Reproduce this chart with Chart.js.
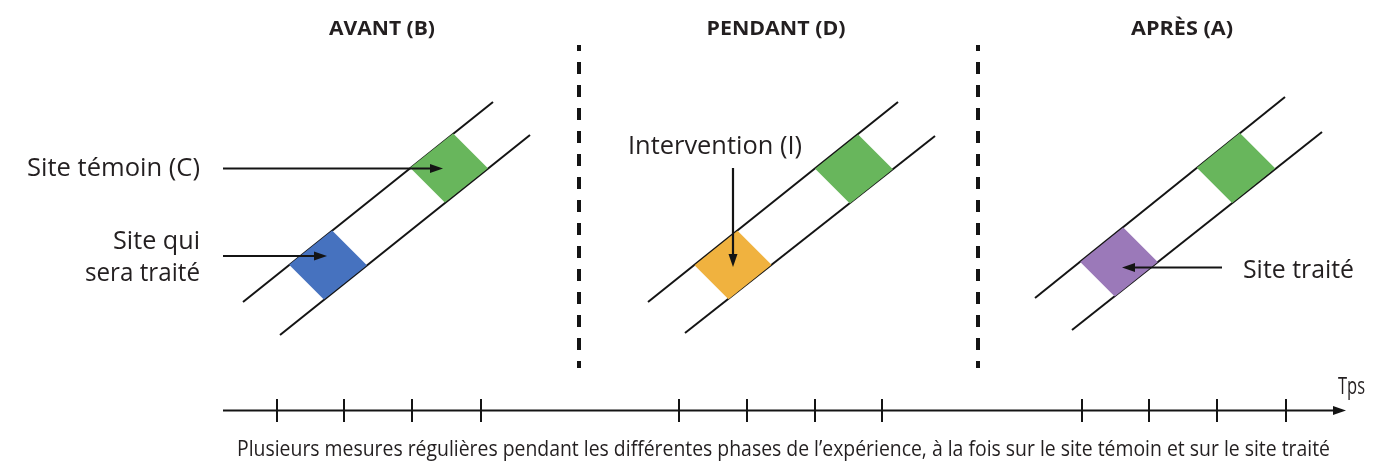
<!DOCTYPE html>
<html lang="fr">
<head>
<meta charset="utf-8">
<title>Avant / Pendant / Après</title>
<script src="https://cdn.jsdelivr.net/npm/chart.js@4.4.1/dist/chart.umd.min.js"></script>
<style>
  html, body { margin: 0; padding: 0; background: #fff; }
  #wrap { width: 1386px; height: 468px; }
</style>
</head>
<body>
<div id="wrap"><canvas id="schema" width="1386" height="468"></canvas></div>
<script>
// Phases de l'expérience
const phases = ['AVANT (B)', 'PENDANT (D)', 'APRÈS (A)'];
// Rails de chaque phase : [x0, y0, x1, y1]
const upperRails = [[243, 302, 493, 102], [648, 302, 898, 102], [1035, 298, 1285, 97]];
const lowerRails = [[280, 335, 530, 135], [685, 333, 935, 136], [1072, 330, 1322, 132]];
// Sites (centres)
const controlSites = [[449, 168], [854, 169], [1236, 168]];
const treatedSites = [[328, 265], [733, 265], [1119, 262]];
const controlColor = '#68b65c';
const treatedColors = ['#4672bf', '#f0b23f', '#9b79b9'];
// Mesures régulières sur l'axe du temps
const measureTimes = [277, 344, 412, 481, 679, 747, 815, 882, 1082, 1149, 1217, 1286];
// Séparations entre les phases
const phaseLimits = [579, 978];

const caption = 'Plusieurs mesures régulières pendant les différentes phases de l’expérience, à la fois sur le site témoin et sur le site traité';
const ink = '#141414';
const textColor = '#231f20';

// Flèches : départ -> pointe
const arrows = [
    { from: [223, 168.5], to: [443, 168.5] },
    { from: [223, 256], to: [327, 256] },
    { from: [733, 168], to: [733, 267] },
    { from: [1222, 267.5], to: [1122, 267.5] }
];
const timeAxis = { from: [223, 410.5], to: [1346, 410.5], tickTop: 399, tickBottom: 422 };
const divider = { top: 45, bottom: 368 };

// Textes
const labels = [
    { text: phases[0], x: 382, y: 35, w: 106, size: 20, bold: true, align: 'center' },
    { text: phases[1], x: 776, y: 35, w: 139, size: 20, bold: true, align: 'center' },
    { text: phases[2], x: 1182, y: 35, w: 102, size: 20, bold: true, align: 'center' },
    { text: 'Site témoin (C)', x: 27, y: 176, w: 173, size: 25, align: 'left' },
    { text: 'Site qui', x: 200, y: 249, w: 87, size: 25, align: 'right' },
    { text: 'sera traité', x: 200, y: 281, w: 115, size: 25, align: 'right' },
    { text: 'Intervention (I)', x: 628, y: 154, w: 174, size: 25, align: 'left' },
    { text: 'Site traité', x: 1243, y: 278, w: 111, size: 25, align: 'left' },
    { text: 'Tps', x: 1338, y: 394, w: 27, size: 23, align: 'left' },
    { text: caption, x: 237, y: 456, w: 1093, size: 22, align: 'left' }
];

function segment(points, color, width, order, extra) {
    return Object.assign({
        type: 'line',
        data: points.map(p => ({ x: p[0], y: p[1] })),
        borderColor: color,
        borderWidth: width,
        borderCapStyle: 'butt',
        pointRadius: 0,
        fill: false,
        tension: 0,
        order: order
    }, extra || {});
}

function polygon(points, color, order) {
    const closed = points.concat([points[0]]);
    return {
        type: 'line',
        data: closed.map(p => ({ x: p[0], y: p[1] })),
        borderColor: 'rgba(0,0,0,0)',
        borderWidth: 1,
        backgroundColor: color,
        fill: 'shape',
        pointRadius: 0,
        tension: 0,
        order: order
    };
}

function railY(rail, x) {
    return rail[1] + (x - rail[0]) * (rail[3] - rail[1]) / (rail[2] - rail[0]);
}

// losange posé entre les deux rails
function diamond(center, i) {
    const up = upperRails[i], low = lowerRails[i];
    const s = (up[1] - up[3]) / (up[2] - up[0]);
    const gap = railY(low, center[0]) - railY(up, center[0]);
    const k = gap / (2 * (1 + s));
    const a = 21.5;
    const cx = center[0], cy = center[1];
    return [
        [cx - a - k, cy + s * a - k],
        [cx + a - k, cy - s * a - k],
        [cx + a + k, cy - s * a + k],
        [cx - a + k, cy + s * a + k]
    ];
}

function arrow(from, to, len, half, width) {
    const dx = to[0] - from[0], dy = to[1] - from[1];
    const n = Math.hypot(dx, dy);
    const ux = dx / n, uy = dy / n;
    const bx = to[0] - len * ux, by = to[1] - len * uy;
    return [
        segment([from, [bx + 2 * ux, by + 2 * uy]], ink, width, 0),
        polygon([to, [bx - half * uy, by + half * ux], [bx + half * uy, by - half * ux]], ink, 0)
    ];
}

const datasets = [];

upperRails.forEach(r => datasets.push(segment([[r[0], r[1]], [r[2], r[3]]], ink, 2, 2)));
lowerRails.forEach(r => datasets.push(segment([[r[0], r[1]], [r[2], r[3]]], ink, 2, 2)));

controlSites.forEach((c, i) => datasets.push(polygon(diamond(c, i), controlColor, 1)));
treatedSites.forEach((c, i) => datasets.push(polygon(diamond(c, i), treatedColors[i], 1)));

phaseLimits.forEach(x => datasets.push(segment([[x, divider.top], [x, divider.bottom]], ink, 4, 2,
    { borderDash: [12, 11], borderDashOffset: 6 })));

arrows.forEach(a => arrow(a.from, a.to, 13, 4.5, 2.2).forEach(d => datasets.push(d)));

arrow(timeAxis.from, timeAxis.to, 13, 4.5, 2.2).forEach(d => datasets.push(d));
measureTimes.forEach(t => datasets.push(segment([[t, timeAxis.tickTop], [t, timeAxis.tickBottom]], ink, 2, 2)));

// Fond blanc
const background = {
    id: 'background',
    beforeDraw(chart) {
        const ctx = chart.ctx;
        ctx.save();
        ctx.fillStyle = '#ffffff';
        ctx.fillRect(0, 0, chart.width, chart.height);
        ctx.restore();
    }
};

// Textes ajustés à la largeur mesurée sur l'original
const texts = {
    id: 'texts',
    afterDraw(chart) {
        const ctx = chart.ctx;
        const sx = chart.scales.x, sy = chart.scales.y;
        labels.forEach(l => {
            ctx.save();
            ctx.font = (l.bold ? 'bold ' : '') + l.size + 'px "Open Sans", "Noto Sans", sans-serif';
            ctx.fillStyle = textColor;
            ctx.textAlign = 'left';
            ctx.textBaseline = 'alphabetic';
            const k = l.w / ctx.measureText(l.text).width;
            const px = sx.getPixelForValue(l.x);
            const py = sy.getPixelForValue(l.y);
            let left = px;
            if (l.align === 'center') left = px - l.w / 2;
            if (l.align === 'right') left = px - l.w;
            ctx.translate(left, py);
            ctx.scale(k, 1);
            ctx.fillText(l.text, 0, 0);
            ctx.restore();
        });
    }
};

new Chart(document.getElementById('schema'), {
    type: 'line',
    data: { datasets: datasets },
    options: {
        responsive: false,
        animation: false,
        events: [],
        layout: { padding: 0 },
        plugins: {
            legend: { display: false },
            tooltip: { enabled: false }
        },
        scales: {
            x: { type: 'linear', min: 0, max: 1386, display: false },
            y: { type: 'linear', min: 0, max: 468, reverse: true, display: false }
        }
    },
    plugins: [background, texts]
});
</script>
</body>
</html>
